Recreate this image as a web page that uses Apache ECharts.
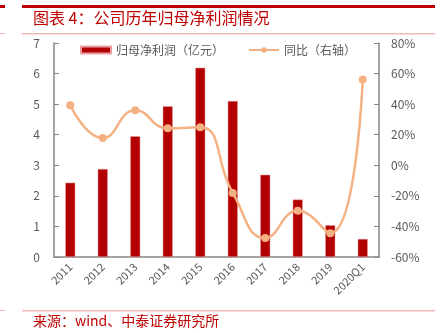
<!DOCTYPE html>
<html>
<head>
<meta charset="utf-8">
<script src="https://cdn.jsdelivr.net/npm/echarts@6/dist/echarts.min.js"></script>
<style>
html,body{margin:0;padding:0;background:#fff;}
#chart{width:443px;height:333px;}
</style>
</head>
<body>
<div id="chart"></div>
<script>
// 年度 / 季度
const categories = ['2011','2012','2013','2014','2015','2016','2017','2018','2019','2020Q1'];
// 归母净利润（亿元）
const netProfit = [2.43, 2.88, 3.95, 4.93, 6.19, 5.10, 2.69, 1.88, 1.04, 0.59];
// 同比（%）
const yoy = [39.2, 17.9, 36.0, 24.2, 24.9, -18.1, -47.6, -29.8, -44.4, 56.2];

const titleText = '图表 4：公司历年归母净利润情况';
const sourceText = '来源：wind、中泰证券研究所';

const red = '#C00000';
const grey = '#595959';
const axisGrey = '#868686';
const font = '"Noto Sans CJK SC", "DejaVu Sans", sans-serif';

const chart = echarts.init(document.getElementById('chart'));
chart.setOption({
  animation: false,
  textStyle: { fontFamily: font },
  graphic: [
    { type: 'rect', shape: { x: 0, y: 5, width: 5, height: 3 }, style: { fill: red } },
    { type: 'rect', shape: { x: 22, y: 5, width: 413, height: 3 }, style: { fill: red } },
    { type: 'rect', shape: { x: 0, y: 33, width: 5, height: 1 }, style: { fill: '#F2B8B8' } },
    { type: 'rect', shape: { x: 22, y: 33, width: 413, height: 1.5 }, style: { fill: '#F2B8B8' } },
    { type: 'rect', shape: { x: 0, y: 310, width: 5, height: 1 }, style: { fill: '#F2B8B8' } },
    { type: 'rect', shape: { x: 22, y: 310, width: 413, height: 1.5 }, style: { fill: '#F2B8B8' } },
    { type: 'text', left: 33, top: 10, style: { text: titleText, fill: red, font: '16px ' + font } },
    { type: 'text', left: 33, top: 314, style: { text: sourceText, fill: red, font: '14px ' + font } }
  ],
  legend: {
    top: 39,
    left: 75,
    itemGap: 24,
    itemWidth: 30,
    itemHeight: 7,
    textStyle: { color: grey, fontSize: 12, fontFamily: font },
    data: [
      { name: '归母净利润（亿元）', icon: 'rect' },
      { name: '同比（右轴）' }
    ]
  },
  grid: { left: 54, right: 64, top: 43, bottom: 76, containLabel: false },
  xAxis: {
    type: 'category',
    data: categories,
    boundaryGap: true,
    axisLine: { lineStyle: { color: axisGrey, width: 1.5 } },
    axisTick: { inside: true, length: 5, lineStyle: { color: axisGrey } },
    axisLabel: { rotate: 45, color: grey, fontSize: 11, margin: 8, interval: 0 }
  },
  yAxis: [
    {
      type: 'value', min: 0, max: 7, interval: 1,
      axisLine: { show: true, lineStyle: { color: axisGrey, width: 1.5 } },
      axisTick: { show: true, inside: true, length: 5, lineStyle: { color: axisGrey } },
      axisLabel: { color: grey, fontSize: 12, margin: 14 },
      splitLine: { show: false }
    },
    {
      type: 'value', min: -60, max: 80, interval: 20,
      axisLine: { show: true, lineStyle: { color: axisGrey, width: 1.5 } },
      axisTick: { show: true, inside: true, length: 5, lineStyle: { color: axisGrey } },
      axisLabel: { color: grey, fontSize: 12, margin: 12, formatter: v => v + '%' },
      splitLine: { show: false }
    }
  ],
  series: [
    {
      name: '归母净利润（亿元）',
      type: 'bar',
      data: netProfit,
      barWidth: 10,
      itemStyle: { color: '#B30000', borderColor: '#E8A0A0', borderWidth: 0.5 }
    },
    {
      name: '同比（右轴）',
      type: 'line',
      yAxisIndex: 1,
      data: yoy,
      smooth: 0.5,
      symbol: 'circle',
      symbolSize: 8,
      lineStyle: { color: '#F4B183', width: 2.5 },
      itemStyle: { color: '#F4B183' }
    }
  ]
});
</script>
</body>
</html>
